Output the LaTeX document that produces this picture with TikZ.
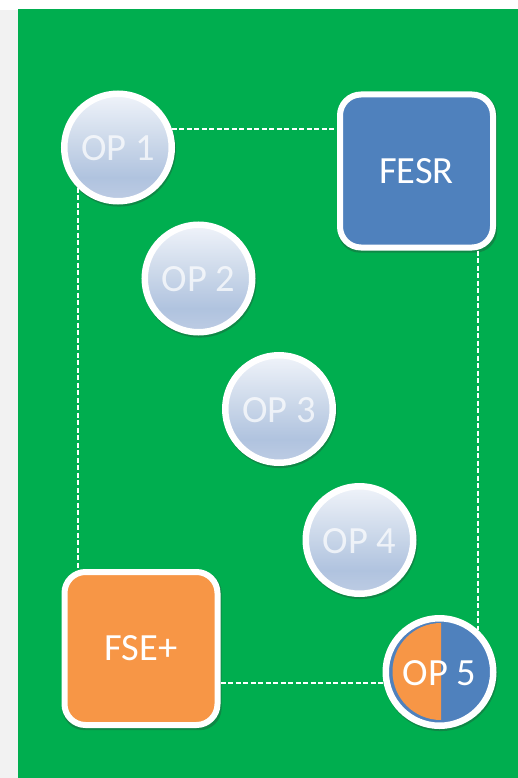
\documentclass[tikz,border=0pt]{standalone}
\usepackage{fontspec}
\setmainfont{Carlito}
\usetikzlibrary{shadows}
\definecolor{bggreen}{HTML}{00AE4F}
\definecolor{sidegrey}{HTML}{F2F2F2}
\definecolor{fesrblue}{HTML}{4F81BD}
\definecolor{fseorange}{HTML}{F79646}
\definecolor{opa}{HTML}{BCCBE3}
\definecolor{opb}{HTML}{B0C3DF}
\definecolor{opc}{HTML}{CAD7E9}
\definecolor{opd}{HTML}{EEF2F9}
\pgfdeclareverticalshading{opshade}{100bp}{
  color(0bp)=(opa);color(26bp)=(opa);color(36bp)=(opb);color(52bp)=(opc);color(74bp)=(opd);color(100bp)=(opd)}
\tikzset{
  softshadow/.style={drop shadow={shadow scale=1.06,shadow xshift=1pt,shadow yshift=-2pt,opacity=.3,fill=black!80}},
  boxshadow/.style={drop shadow={shadow scale=1.04,shadow xshift=1pt,shadow yshift=-2pt,opacity=.3,fill=black!80}},
  opcircle/.style={circle,minimum size=107.5pt,inner sep=0pt,draw=white,line width=6.5pt,shading=opshade,
    text=white,text opacity=.72,font=\fontsize{38.5}{38.5}\selectfont,text height=26.8pt,text depth=0pt,softshadow},
  opsplit/.style={circle,minimum size=107.5pt,inner sep=0pt,draw=white,line width=6.5pt,fill=fesrblue,softshadow},
  fundbox/.style={rounded corners=21pt,minimum width=153pt,minimum height=153pt,inner sep=0pt,draw=white,line width=6pt,
    text=white,font=\fontsize{38.5}{38.5}\selectfont,boxshadow},
  dashline/.style={draw=white,line width=2pt,dash pattern=on 5pt off 2.5pt},
  oplabel/.style={text=white,font=\fontsize{38.5}{38.5}\selectfont,inner sep=0pt,text height=26.8pt,text depth=0pt}
}
\begin{document}
\begin{tikzpicture}[x=1pt,y=-1pt]
\useasboundingbox (0,0) rectangle (518,778);
\fill[white] (0,0) rectangle (518,778);
\fill[sidegrey] (0,10) rectangle (18,778);
\fill[bggreen] (18,9) rectangle (518,778);
\node[opcircle] (op1) at (118,147.5) {OP 1};
\node[opcircle] (op2) at (198.5,278.5) {OP 2};
\node[opcircle] (op3) at (279,409) {OP 3};
\node[opcircle] (op4) at (359.5,540) {OP 4};
\node[opsplit] (op5) at (439.5,672) {};
\fill[fseorange] (441,623) arc[start angle=270,end angle=90,radius=48.5] -- cycle;
\node[oplabel] (op5t) at (439.5,672) {OP 5};
\node[fundbox,fill=fesrblue] (fesr) at (416.5,171) {FESR};
\node[fundbox,fill=fseorange] (fse) at (141,648.5) {FSE+};
\draw[dashline] (op1.19) -- (op1.19 -| fesr.west);
\draw[dashline] (op1.225) -- (op1.225 |- fse.north);
\draw[dashline] (op5.191 -| fse.east) -- (op5.191);
\draw[dashline] (op5.47 |- fesr.south) -- (op5.47);
\end{tikzpicture}
\end{document}
